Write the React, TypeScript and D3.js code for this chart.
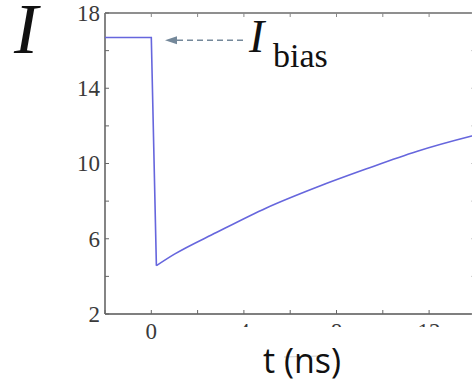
import React from "react";
import * as d3 from "d3";

const timeNs = [-2, 0, 0.22, 1.0, 2.81, 4.97, 7.14, 9.3, 11.46, 13.84, 14];
const current = [16.7, 16.7, 4.57, 5.18, 6.33, 7.64, 8.74, 9.72, 10.64, 11.46, 11.51];
const yTickLabels = [2, 6, 10, 14, 18];
const yMinorTicks = [4, 8, 12, 16];
const xTickLabels = [0, 4, 8, 12];
const xAllTicks = [-2, 0, 2, 4, 6, 8, 10, 12, 14];

const W = 472;
const H = 382;
const SERIF = "'Liberation Serif', 'Times New Roman', serif";
const SANS = "'Open Sans', 'Noto Sans', sans-serif";

export default function App() {
  const x = d3.scaleLinear().domain([-2, 14]).range([105, 475.4]);
  const y = d3.scaleLinear().domain([2, 18]).range([314, 13]);
  const pts = timeNs.map((t, i) => [t, current[i]] as [number, number]);
  const dropLine = d3
    .line<[number, number]>()
    .x((d) => x(d[0]))
    .y((d) => y(d[1]))
    .curve(d3.curveLinear)(pts.slice(0, 3));
  const riseLine = d3
    .line<[number, number]>()
    .x((d) => x(d[0]))
    .y((d) => y(d[1]))
    .curve(d3.curveMonotoneX)(pts.slice(2));

  const axisColor = "#6a6a6a";
  const tickLen = 4;
  const x0 = x(-2);
  const x1 = x(14);
  const yTop = y(18);
  const yBot = y(2);
  const arrowY = y(16.55);

  return (
    <svg
      width={W}
      height={H}
      style={{ position: "absolute", left: 0, top: 0, background: "#fff" }}
    >
      <defs>
        <clipPath id="tickClip">
          <rect x={0} y={0} width={W} height={327} />
        </clipPath>
      </defs>
      <rect x={0} y={0} width={W} height={H} fill="#fff" />
      {/* frame */}
      <line x1={x0} x2={x1} y1={yTop} y2={yTop} stroke={axisColor} strokeWidth={1.3} />
      <line x1={x0} x2={x1} y1={yBot} y2={yBot} stroke="#555" strokeWidth={1.6} />
      <line x1={x0} x2={x0} y1={yTop} y2={yBot} stroke="#666" strokeWidth={1.6} />
      <line x1={x1} x2={x1} y1={yTop} y2={yBot} stroke={axisColor} strokeWidth={1.3} />
      {/* x ticks */}
      {xAllTicks.map((t) => (
        <g key={"xt" + t}>
          <line x1={x(t)} x2={x(t)} y1={yBot} y2={yBot - tickLen} stroke="#666" strokeWidth={1} />
          <line x1={x(t)} x2={x(t)} y1={yTop} y2={yTop + tickLen} stroke="#888" strokeWidth={1} />
        </g>
      ))}
      {/* y ticks */}
      {[...yTickLabels, ...yMinorTicks].map((v) => (
        <g key={"yt" + v}>
          <line x1={x0} x2={x0 + tickLen} y1={y(v)} y2={y(v)} stroke="#666" strokeWidth={1} />
          <line x1={x1} x2={x1 - tickLen} y1={y(v)} y2={y(v)} stroke="#aaa" strokeWidth={1} />
        </g>
      ))}
      {/* y tick labels */}
      {yTickLabels.map((v) => (
        <text
          key={"yl" + v}
          x={100}
          y={y(v)}
          dy="0.34em"
          textAnchor="end"
          fontFamily={SERIF}
          fontSize={23}
          fill="#3a3a3a"
        >
          {v}
        </text>
      ))}
      {/* x tick labels (lower part hidden, as in the reference) */}
      <g clipPath="url(#tickClip)">
        {xTickLabels.slice(1).map((v) => (
          <text
            key={"xl" + v}
            x={x(v)}
            y={339}
            textAnchor="middle"
            fontFamily={SERIF}
            fontSize={23}
            fill="#3a3a3a"
          >
            {v}
          </text>
        ))}
      </g>
      <text
        x={x(xTickLabels[0])}
        y={339}
        textAnchor="middle"
        fontFamily={SERIF}
        fontSize={23}
        fill="#3a3a3a"
      >
        {xTickLabels[0]}
      </text>
      {/* faint residual line */}
      <line x1={284} x2={320} y1={357} y2={356} stroke="#cfcfcf" strokeWidth={1} />
      {/* data line */}
      <path d={dropLine ?? ""} fill="none" stroke="#6666dd" strokeWidth={1.6} />
      <path d={riseLine ?? ""} fill="none" stroke="#6666dd" strokeWidth={1.6} />
      {/* arrow */}
      <line
        x1={177}
        x2={246}
        y1={arrowY}
        y2={arrowY}
        stroke="#74889a"
        strokeWidth={1.6}
        strokeDasharray="6,4"
      />
      <polygon
        points={`165,${arrowY} 177,${arrowY - 4} 177,${arrowY + 4}`}
        fill="#74889a"
      />
      {/* labels */}
      <text x={249} y={51.7} fontFamily={SERIF} fontStyle="italic" fontSize={46} fill="#111">
        I
      </text>
      <text x={273} y={66.7} fontFamily={SERIF} fontSize={34} fill="#111">
        bias
      </text>
      <text x={14} y={53} fontFamily={SERIF} fontStyle="italic" fontSize={72} fill="#111">
        I
      </text>
      <text
        x={302}
        y={373}
        textAnchor="middle"
        fontFamily={SANS}
        fontSize={34}
        fill="#111"
      >
        t (ns)
      </text>
    </svg>
  );
}
